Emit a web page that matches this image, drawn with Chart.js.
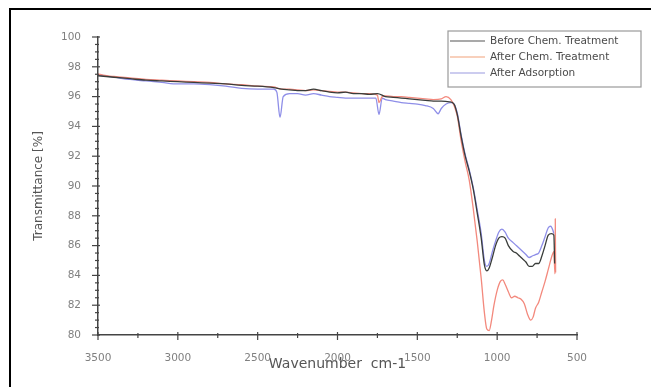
<!DOCTYPE html>
<html>
<head>
<meta charset="utf-8">
<script src="https://cdn.jsdelivr.net/npm/chart.js@4.4.0/dist/chart.umd.min.js"></script>
<style>
html,body{margin:0;padding:0;background:#fff;}
#wrap{position:relative;width:651px;height:387px;overflow:hidden;}
#frame{position:absolute;left:9px;top:8px;width:650px;height:390px;border-top:2px solid #000;border-left:2px solid #000;pointer-events:none;}
canvas{display:block;}
</style>
</head>
<body>
<div id="wrap">
<canvas id="c" width="651" height="387"></canvas>
<div id="frame"></div>
</div>
<script>
// ---- Data ----
const seriesLabels = ["Before Chem. Treatment", "After Chem. Treatment", "After Adsorption"];

const beforeWn = [3500,3400,3300,3200,3100,3000,2900,2800,2700,2600,2500,2400,2350,2300,2250,2200,2150,2100,2050,2000,1950,1900,1850,1800,1750,1700,1650,1600,1550,1500,1450,1400,1350,1300,1270,1250,1225,1200,1175,1150,1125,1100,1080,1065,1050,1030,1010,990,970,950,930,900,880,860,840,820,800,780,760,740,720,700,680,660,645,640];
const beforeT  = [97.4,97.3,97.2,97.1,97.05,97.0,96.95,96.9,96.85,96.75,96.7,96.6,96.5,96.45,96.4,96.4,96.5,96.4,96.3,96.25,96.3,96.2,96.2,96.15,96.2,96.0,95.95,95.9,95.85,95.8,95.75,95.7,95.7,95.65,95.5,94.8,93.3,92.0,91.0,89.8,88.2,86.5,84.7,84.3,84.5,85.2,86.0,86.5,86.6,86.5,86.0,85.6,85.5,85.3,85.1,84.9,84.6,84.6,84.8,84.8,85.3,86.0,86.7,86.8,86.7,84.8];

const chemWn = [3500,3400,3300,3200,3100,3000,2900,2800,2700,2600,2500,2400,2350,2300,2250,2200,2150,2100,2050,2000,1950,1900,1850,1800,1750,1740,1720,1700,1650,1600,1550,1500,1450,1400,1350,1320,1290,1270,1250,1225,1200,1175,1150,1125,1100,1080,1065,1050,1035,1020,1000,980,965,950,930,910,890,870,850,830,810,790,775,760,740,720,700,680,660,645,638,636,634];
const chemT  = [97.5,97.35,97.25,97.15,97.1,97.05,97.0,96.95,96.85,96.8,96.7,96.65,96.5,96.5,96.45,96.4,96.45,96.4,96.35,96.3,96.3,96.25,96.2,96.2,96.1,95.6,96.0,96.05,96.0,96.0,95.95,95.9,95.85,95.8,95.85,96.0,95.8,95.4,94.7,93.0,91.6,90.4,88.5,86.3,83.8,81.5,80.4,80.3,81.0,82.0,83.0,83.6,83.7,83.4,82.9,82.5,82.6,82.5,82.4,82.1,81.4,81.0,81.2,81.8,82.2,82.9,83.6,84.4,85.2,85.6,84.1,87.8,84.2];

const adsWn = [3500,3400,3300,3200,3100,3000,2900,2800,2700,2600,2500,2400,2380,2360,2340,2300,2250,2200,2150,2100,2050,2000,1950,1900,1850,1800,1760,1740,1720,1700,1650,1600,1550,1500,1450,1400,1370,1350,1320,1290,1270,1250,1225,1200,1175,1150,1125,1100,1080,1065,1050,1030,1010,990,970,950,930,900,880,860,840,820,800,780,760,740,720,700,680,665,650,645];
const adsT  = [97.45,97.3,97.15,97.05,96.95,96.85,96.85,96.8,96.7,96.55,96.5,96.5,96.3,94.6,96.0,96.2,96.2,96.1,96.2,96.1,96.0,95.95,95.9,95.9,95.9,95.9,95.9,94.8,95.9,95.8,95.7,95.6,95.55,95.5,95.4,95.2,94.85,95.2,95.5,95.6,95.5,94.9,93.4,92.1,91.1,89.9,88.4,86.8,85.0,84.6,84.8,85.6,86.3,86.9,87.1,86.9,86.5,86.2,86.0,85.8,85.6,85.4,85.2,85.3,85.4,85.5,86.0,86.6,87.2,87.3,87.0,86.8];

const xTickValues = [3500,3000,2500,2000,1500,1000,500];
const yTickValues = [80,82,84,86,88,90,92,94,96,98,100];

const seriesColors = ["#3a3d3a", "#f3897d", "#8e8ee8"];
const legendColors = ["#555555", "#f2a27a", "#9a9ae0"];

const toPoints = (xs, ys) => xs.map((x, i) => ({x: x, y: ys[i]}));

const FONT = "'DejaVu Sans', 'Liberation Sans', sans-serif";
const tickFont = {family: FONT, size: 10.5};

// minor / major tick marks drawn through the scales
const tickPlugin = {
  id: 'ticksMarks',
  afterDraw(chart) {
    const ctx = chart.ctx, xs = chart.scales.x, ys = chart.scales.y;
    const a = chart.chartArea;
    ctx.save();
    ctx.strokeStyle = '#444';
    ctx.lineWidth = 1.2;
    for (let v = 500; v <= 3500; v += 250) {
      const px = xs.getPixelForValue(v);
      const major = (v % 500 === 0);
      ctx.beginPath();
      ctx.moveTo(px, a.bottom - (major ? 3 : 2));
      ctx.lineTo(px, a.bottom + (major ? 5 : 3));
      ctx.stroke();
    }
    for (let v = 80; v <= 100.001; v += 0.5) {
      const py = ys.getPixelForValue(v);
      const major = Math.abs(v / 2 - Math.round(v / 2)) < 1e-6;
      ctx.beginPath();
      ctx.moveTo(a.left - (major ? 6 : 3), py);
      ctx.lineTo(a.left + (major ? 2 : 1), py);
      ctx.stroke();
    }
    ctx.restore();
  }
};

const legendPlugin = {
  id: 'boxLegend',
  afterDraw(chart) {
    const ctx = chart.ctx, a = chart.chartArea;
    const left = a.right - 129, top = a.top - 6, w = 193, h = 56;
    ctx.save();
    ctx.fillStyle = '#fff';
    ctx.fillRect(left, top, w, h);
    ctx.strokeStyle = '#9a9a9a';
    ctx.lineWidth = 1.2;
    ctx.strokeRect(left, top, w, h);
    ctx.font = "10.5px " + FONT;
    ctx.textBaseline = 'middle';
    seriesLabels.forEach((lab, i) => {
      const y = top + 10 + i * 16;
      ctx.strokeStyle = legendColors[i];
      ctx.lineWidth = 1.2;
      ctx.beginPath();
      ctx.moveTo(left + 2, y);
      ctx.lineTo(left + 37, y);
      ctx.stroke();
      ctx.fillStyle = '#4a4a4a';
      ctx.fillText(lab, left + 42, y);
    });
    ctx.restore();
  }
};

const mk = (i, pts) => ({
  label: seriesLabels[i],
  data: pts,
  borderColor: seriesColors[i],
  backgroundColor: seriesColors[i],
  borderWidth: 1.3,
  pointRadius: 0,
  cubicInterpolationMode: 'monotone',
  fill: false
});

new Chart(document.getElementById('c'), {
  type: 'line',
  data: {
    datasets: [
      mk(0, toPoints(beforeWn, beforeT)),
      mk(1, toPoints(chemWn, chemT)),
      mk(2, toPoints(adsWn, adsT))
    ]
  },
  options: {
    responsive: false,
    animation: false,
    devicePixelRatio: 1,
    layout: {padding: {left: 28, top: 37, right: 74, bottom: 10}},
    plugins: {legend: {display: false}, tooltip: {enabled: false}},
    scales: {
      x: {
        type: 'linear', reverse: true, min: 500, max: 3500,
        afterBuildTicks: s => { s.ticks = xTickValues.map(v => ({value: v})); },
        afterFit: s => { s.height = 42; },
        ticks: {font: tickFont, color: '#808080', padding: 9, maxRotation: 0, callback: v => String(v)},
        grid: {display: false},
        border: {display: true, color: '#444', width: 1.5},
        title: {display: true, text: 'Wavenumber  cm-1', color: '#555', font: {family: FONT, size: 14}, padding: 4}
      },
      y: {
        min: 80, max: 100,
        afterBuildTicks: s => { s.ticks = yTickValues.map(v => ({value: v})); },
        afterFit: s => { s.width = 70; },
        ticks: {font: tickFont, color: '#808080', padding: 9, callback: v => String(v)},
        grid: {display: false},
        border: {display: true, color: '#444', width: 1.5},
        title: {display: true, text: 'Transmittance [%]', color: '#555', font: {family: FONT, size: 12}, padding: 4}
      }
    }
  },
  plugins: [tickPlugin, legendPlugin]
});
</script>
</body>
</html>
